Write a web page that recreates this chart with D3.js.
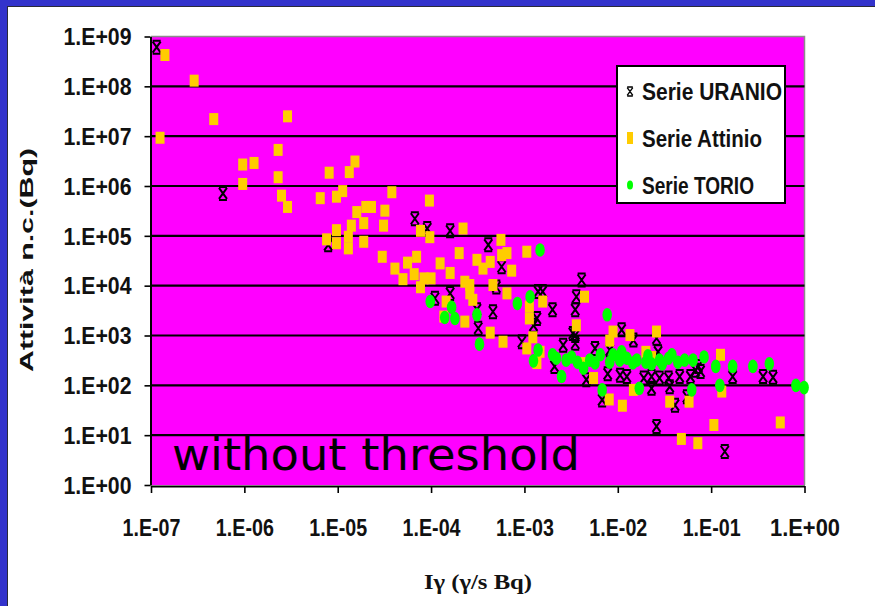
<!DOCTYPE html>
<html>
<head>
<meta charset="utf-8">
<script src="https://cdn.jsdelivr.net/npm/d3@7"></script>
<style>
  html, body { margin: 0; padding: 0; background: #ffffff; }
  svg { display: block; }
</style>
</head>
<body>
<svg id="chart" width="875" height="606"></svg>
<script>
// ---------------- DATA ----------------
const seriesNames = ["Serie URANIO", "Serie Attinio", "Serie TORIO"];
const xTickValues = [1e-7, 1e-6, 1e-5, 1e-4, 1e-3, 1e-2, 1e-1, 1];
const xTickLabels = ["1.E-07", "1.E-06", "1.E-05", "1.E-04", "1.E-03", "1.E-02", "1.E-01", "1.E+00"];
const yTickValues = [1, 1e1, 1e2, 1e3, 1e4, 1e5, 1e6, 1e7, 1e8, 1e9];
const yTickLabels = ["1.E+00", "1.E+01", "1.E+02", "1.E+03", "1.E+04", "1.E+05", "1.E+06", "1.E+07", "1.E+08", "1.E+09"];
const xTitle = "Iγ (γ/s Bq)";
const yTitle = "Attività n.c.(Bq)";
const annotation = "without threshold";

// [Iγ (γ/s Bq), Attività n.c. (Bq)]
const uranioData = [
  [1.15e-7,6.1e8],[5.9e-7,7.1e5],[7.9e-6,6.6e4],[6.7e-5,2.2e5],[9.1e-5,1.4e5],[1.6e-4,1.26e5],
  [4.1e-4,6.6e4],[5.7e-4,2.4e4],[5.0e-4,9.4e3],[1.1e-4,5.6e3],[1.6e-4,7.0e3],[3.1e-4,3.3e3],
  [4.6e-4,3.0e3],[3.2e-4,1.4e3],[1.4e-3,7.6e3],[1.57e-3,7.6e3],[1.36e-3,2.2e3],[1.25e-3,1.6e3],
  [2.0e-3,3.3e3],[3.6e-3,6.0e3],[4.1e-3,1.3e4],[3.5e-3,3.3e3],[3.3e-3,1.1e3],[9.4e-4,7.5e2],
  [2.6e-3,6.4e2],[3.5e-3,7.0e2],[2.1e-3,2.4e2],[4.6e-3,1.3e2],[3.5e-3,1.0e3],[5.7e-3,5.5e2],
  [8.2e-3,5.1e2],[1.1e-2,1.3e3],[1.47e-2,8.1e2],[2.6e-2,8.8e2],[2.7e-2,4.7e2],[7.3e-2,2.4e2],
  [1.7e-1,1.5e2],[3.6e-1,1.5e2],[4.6e-1,1.45e2],[2.3e-2,87],[3.6e-2,94],[5.5e-2,59],
  [6.8e-3,51],[7.8e-3,1.7e2],[1.25e-2,1.5e2],[1.9e-2,1.4e2],[2.3e-2,1.5e2],[3.5e-2,1.4e2],
  [4.6e-2,1.5e2],[4.1e-2,40],[2.6e-2,15],[1.4e-1,4.7],[6.8e-2,2.0e2],[1.06e-2,1.6e2],
  [6.0e-2,1.5e2],[2.8e-2,1.4e2],[7.7e-2,1.9e2]
];
const attinioData = [
  [1.41e-7,4.25e8],[2.9e-7,1.3e8],[1.25e-7,9.3e6],[4.7e-7,2.2e7],[2.9e-6,2.5e7],[2.3e-6,5.3e6],
  [9.6e-7,2.7e6],[1.27e-6,2.9e6],[9.6e-7,1.1e6],[2.3e-6,1.5e6],[2.5e-6,6.4e5],[2.9e-6,3.8e5],
  [8.1e-6,1.85e6],[6.5e-6,5.7e5],[1.53e-5,3.1e6],[1.33e-5,1.9e6],[1.13e-5,7.9e5],[9.7e-6,6.1e5],
  [3.8e-5,7.5e5],[9.6e-5,5.1e5],[1.6e-5,3.0e5],[2.0e-5,3.8e5],[2.3e-5,3.8e5],[1.9e-5,1.8e5],
  [1.4e-5,1.6e5],[9.7e-6,1.3e5],[9.7e-6,7.1e4],[1.3e-5,9.6e4],[1.3e-5,5.6e4],[7.6e-6,8.5e4],
  [1.9e-5,7.6e4],[3.2e-5,3.2e5],[3.1e-5,1.6e5],[7.7e-5,1.26e5],[9.7e-5,9.4e4],[2.2e-4,1.4e5],
  [3.0e-5,3.8e4],[4.1e-5,2.2e4],[5.0e-5,1.35e4],[5.6e-5,2.9e4],[7.0e-5,3.8e4],[6.6e-5,1.7e4],
  [8.4e-5,1.4e4],[1.0e-4,1.4e4],[1.25e-4,2.8e4],[1.6e-4,1.8e4],[2.0e-4,4.5e4],[7.7e-5,9.3e3],
  [2.3e-4,1.2e4],[2.6e-4,1.03e4],[2.6e-4,7.0e3],[2.8e-4,5.2e3],[3.1e-4,3.3e4],[3.6e-4,2.2e4],
  [4.3e-4,3.0e4],[5.6e-4,8.3e4],[5.7e-4,4.1e4],[6.5e-4,4.5e4],[7.3e-4,2.0e4],[4.6e-4,1.03e4],
  [6.5e-4,7.0e3],[1.06e-3,4.8e4],[1.45e-4,4.8e3],[1.37e-4,2.4e3],[2.3e-4,1.9e3],[4.3e-4,1.14e3],
  [5.9e-4,7.5e2],[1.13e-3,3.8e3],[1.13e-3,2.2e3],[1.57e-3,4.8e3],[4.4e-3,6.0e3],[3.6e-3,1.6e3],
  [1.06e-3,5.5e2],[1.23e-3,9.2e2],[1.47e-3,4.7e2],[1.36e-3,2.8e2],[4.3e-3,2.8e2],[8.9e-3,1.2e3],
  [8.2e-3,7.9e2],[1.35e-2,1.02e3],[2.6e-2,1.2e3],[5.5e-3,1.4e2],[2.0e-2,4.7e2],[2.3e-2,3.7e2],
  [1.26e-1,4.1e2],[1.3e-1,75],[1.47e-2,81],[3.6e-2,47],[5.8e-2,47],[8.1e-3,52],
  [1.12e-2,39],[1.07e-1,16],[5.5e-1,18],[4.8e-2,8.4],[7.2e-2,6.9]
];
const torioData = [
  [9.8e-5,4.8e3],[1.66e-4,3.7e3],[1.4e-4,2.3e3],[1.8e-4,2.2e3],[3.1e-4,2.6e3],[3.3e-4,6.7e2],
  [8.4e-4,4.4e3],[1.15e-3,6.0e3],[1.47e-3,5.2e4],[1.4e-3,5.1e2],[1.25e-3,3.1e2],[2.0e-3,4.1e2],
  [2.2e-3,3.5e2],[2.5e-3,1.5e2],[2.8e-3,3.2e2],[3.2e-3,3.7e2],[3.7e-3,2.9e2],[4.3e-3,2.2e2],
  [5.0e-3,3.2e2],[5.7e-3,2.8e2],[7.7e-3,2.6e3],[6.8e-3,81],[8.2e-3,2.9e2],[1.05e-2,3.2e2],
  [1.25e-2,3.5e2],[1.45e-2,2.8e2],[1.6e-2,3.2e2],[2.0e-2,2.9e2],[2.3e-2,2.7e2],[2.8e-2,3.2e2],
  [3.5e-2,3.5e2],[3.8e-2,4.1e2],[4.4e-2,2.9e2],[5.2e-2,3.2e2],[6.4e-2,3.2e2],[1.7e-2,87],
  [6.2e-2,81],[1.12e-1,2.4e2],[1.24e-1,1.0e2],[1.7e-1,2.4e2],[2.8e-1,2.4e2],[4.2e-1,2.7e2],
  [8.1e-1,1.0e2],[9.9e-1,90],[1.1e-2,4.7e2],[6.5e-3,4.1e2],[8.9e-3,4.1e2],[2.1e-2,3.9e2],
  [3.0e-2,2.7e2],[8.4e-2,3.7e2]
];

// ---------------- LAYOUT ----------------
const W = 875, H = 606;
const plot = { left: 151, right: 804.5, top: 36.5, bottom: 485 };
const svg = d3.select("#chart");

// slide frame
svg.append("rect").attr("x", 0).attr("y", 0).attr("width", W).attr("height", H).attr("fill", "#3333CC");
svg.append("rect").attr("x", 7.5).attr("y", 6.5).attr("width", W).attr("height", H)
  .attr("fill", "#ffffff").attr("stroke", "#2a2a3a").attr("stroke-width", 1);

const x = d3.scaleLog().domain([1e-7, 1]).range([plot.left, plot.right]);
const y = d3.scaleLog().domain([1, 1e9]).range([plot.bottom, plot.top]);

// plot background
svg.append("rect")
  .attr("x", plot.left).attr("y", plot.top)
  .attr("width", plot.right - plot.left).attr("height", plot.bottom - plot.top)
  .attr("fill", "#FF00FF");

// top & right border (grey)
svg.append("path")
  .attr("d", `M${plot.left},${plot.top}H${plot.right}V${plot.bottom}`)
  .attr("fill", "none").attr("stroke", "#8c8c8c").attr("stroke-width", 1.5);

// horizontal gridlines
svg.append("g").selectAll("line")
  .data(yTickValues.filter(v => v > 1 && v < 1e9))
  .join("line")
  .attr("x1", plot.left).attr("x2", plot.right)
  .attr("y1", d => y(d)).attr("y2", d => y(d))
  .attr("stroke", "#000").attr("stroke-width", 2.2);

const tickFont = "'Liberation Sans', Arial, Helvetica, sans-serif";

// Y axis
const yAxis = d3.axisLeft(y).tickValues(yTickValues)
  .tickFormat((d, i) => yTickLabels[i]).tickSize(6).tickSizeOuter(0);
const gy = svg.append("g").attr("transform", `translate(${plot.left - 0.5},0)`).call(yAxis);
gy.select(".domain").attr("stroke", "#000").attr("stroke-width", 2);
gy.selectAll(".tick line").attr("stroke", "#000").attr("stroke-width", 1.6);
gy.selectAll(".tick text")
  .attr("x", -19).attr("dy", "0.36em")
  .attr("fill", "#111")
  .style("font-family", tickFont).style("font-weight", "bold").style("font-size", "23px")
  .attr("textLength", 68).attr("lengthAdjust", "spacingAndGlyphs");

// X axis
const xAxis = d3.axisBottom(x).tickValues(xTickValues)
  .tickFormat((d, i) => xTickLabels[i]).tickSize(7).tickSizeOuter(0);
const gx = svg.append("g").attr("transform", `translate(0,${plot.bottom + 1})`).call(xAxis);
gx.select(".domain").attr("stroke", "#000").attr("stroke-width", 2);
gx.selectAll(".tick line").attr("stroke", "#000").attr("stroke-width", 1.6);
gx.selectAll(".tick text")
  .attr("y", 42).attr("dy", "0.36em")
  .attr("fill", "#111")
  .style("font-family", tickFont).style("font-weight", "bold").style("font-size", "23px")
  .attr("textLength", d => xTickLabels[xTickValues.indexOf(d)].includes("+") ? 70 : 58)
  .attr("lengthAdjust", "spacingAndGlyphs");

// axis titles
svg.append("text")
  .attr("x", 478).attr("y", 589)
  .attr("text-anchor", "middle")
  .style("font-family", "'Liberation Serif', 'Times New Roman', serif")
  .style("font-weight", "bold").style("font-size", "22px")
  .attr("fill", "#111")
  .attr("textLength", 108).attr("lengthAdjust", "spacingAndGlyphs")
  .text(xTitle);

svg.append("text")
  .attr("transform", "translate(33,260) rotate(-90)")
  .attr("text-anchor", "middle")
  .style("font-family", tickFont)
  .style("font-weight", "bold").style("font-size", "19px")
  .attr("fill", "#111")
  .attr("textLength", 224).attr("lengthAdjust", "spacingAndGlyphs")
  .text(yTitle);

// ---------------- MARKERS ----------------
const uranioPath = "M-4,-6.5H4M-4,6.5H4M-4,-5.5L4,5.5M4,-5.5L-4,5.5M0,-2V2";
const colAttinio = "#FFCC00";
const colTorio = "#00FF00";

const gPts = svg.append("g");
gPts.append("g").selectAll("path")
  .data(uranioData).join("path")
  .attr("transform", d => `translate(${x(d[0])},${y(d[1])})`)
  .attr("d", uranioPath)
  .attr("fill", "none").attr("stroke", "#000").attr("stroke-width", 2);

gPts.append("g").selectAll("rect")
  .data(attinioData).join("rect")
  .attr("x", d => x(d[0]) - 4.5).attr("y", d => y(d[1]) - 6)
  .attr("width", 9).attr("height", 12)
  .attr("fill", colAttinio);

gPts.append("g").selectAll("ellipse")
  .data(torioData).join("ellipse")
  .attr("cx", d => x(d[0])).attr("cy", d => y(d[1]))
  .attr("rx", 4.8).attr("ry", 6.8)
  .attr("fill", colTorio);

// annotation
svg.append("text")
  .attr("x", 172).attr("y", 470)
  .style("font-family", "'DejaVu Sans', Verdana, sans-serif")
  .style("font-size", "44px")
  .attr("fill", "#000")
  .attr("textLength", 408).attr("lengthAdjust", "spacingAndGlyphs")
  .text(annotation);

// ---------------- LEGEND ----------------
const lg = svg.append("g");
lg.append("rect")
  .attr("x", 617).attr("y", 66).attr("width", 168).attr("height", 137)
  .attr("fill", "#fff").attr("stroke", "#000").attr("stroke-width", 2);
const rowsY = [91.5, 138, 185];
const textLens = [140, 120, 112];
seriesNames.forEach((name, i) => {
  const cy = rowsY[i];
  if (i === 0) {
    lg.append("path").attr("transform", `translate(630,${cy}) scale(0.7)`)
      .attr("d", uranioPath).attr("fill", "none").attr("stroke", "#000").attr("stroke-width", 2);
  } else if (i === 1) {
    lg.append("rect").attr("x", 627).attr("y", cy - 6).attr("width", 6).attr("height", 12).attr("fill", colAttinio);
  } else {
    lg.append("ellipse").attr("cx", 630).attr("cy", cy).attr("rx", 3).attr("ry", 4.5).attr("fill", colTorio);
  }
  lg.append("text")
    .attr("x", 642).attr("y", cy).attr("dy", "0.36em")
    .style("font-family", tickFont).style("font-weight", "bold").style("font-size", "24px")
    .attr("fill", "#111")
    .attr("textLength", textLens[i]).attr("lengthAdjust", "spacingAndGlyphs")
    .text(name);
});
</script>
</body>
</html>
